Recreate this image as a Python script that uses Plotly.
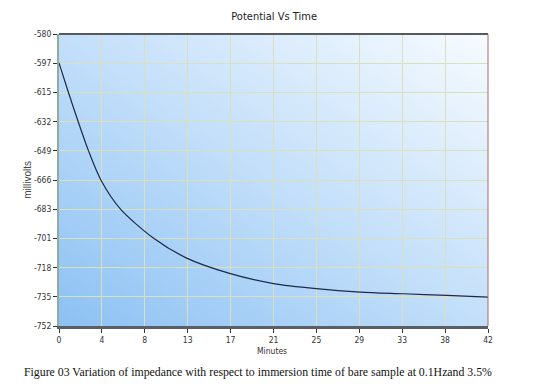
import base64
import plotly.graph_objects as go

# ---- data ----
minutes = [0, 0.9, 1.9, 2.9, 4.1, 6.0, 9.2, 12.5, 16.7, 21.0, 25.2, 29.5, 33.7, 38.0, 42]
millivolts = [-597, -614, -632, -649, -666, -683, -700, -712, -721, -727, -730, -732, -733, -734, -735]

x_tick_vals = [0, 4.2, 8.4, 12.6, 16.8, 21.0, 25.2, 29.4, 33.6, 37.8, 42.0]
x_tick_text = ["0", "4", "8", "13", "17", "21", "25", "29", "33", "38", "42"]
y_tick_vals = [-580, -597.2, -614.4, -631.6, -648.8, -666, -683.2, -700.4, -717.6, -734.8, -752]
y_tick_text = ["-580", "-597", "-615", "-632", "-649", "-666", "-683", "-701", "-718", "-735", "-752"]

title_text = "Potential Vs Time"
x_title = "Minutes"
y_title = "millivolts"
caption = "Figure 03 Variation of impedance with respect to immersion time of bare sample at 0.1Hzand 3.5%"

NARROW = "Liberation Sans Narrow, DejaVu Sans Condensed, Arial Narrow, sans-serif"

svg = (
    '<svg xmlns="http://www.w3.org/2000/svg" width="429" height="292" preserveAspectRatio="none">'
    '<defs><linearGradient id="g" x1="0" y1="1" x2="1" y2="0">'
    '<stop offset="0" stop-color="#8cc1f3"/>'
    '<stop offset="0.5" stop-color="#c3dffa"/>'
    '<stop offset="1" stop-color="#f7fbff"/>'
    '</linearGradient></defs>'
    '<rect width="100%" height="100%" fill="url(#g)"/></svg>'
)
svg_uri = "data:image/svg+xml;base64," + base64.b64encode(svg.encode()).decode()

fig = go.Figure()
fig.add_trace(go.Scatter(
    x=minutes, y=millivolts, mode="lines",
    line=dict(color="#1c2a48", width=1.2, shape="spline", smoothing=0.8),
    hoverinfo="skip", showlegend=False,
))

fig.update_layout(
    width=526, height=384,
    margin=dict(l=51, r=46, t=26, b=66),
    paper_bgcolor="white",
    plot_bgcolor="rgba(0,0,0,0)",
    showlegend=False,
    title=dict(text=title_text, x=0.506, xanchor="center", y=0.979, yanchor="middle",
               font=dict(family=NARROW, size=11, color="#222")),
    images=[dict(source=svg_uri, xref="paper", yref="paper", x=0, y=1,
                 sizex=1, sizey=1, sizing="stretch", layer="below", xanchor="left", yanchor="top")],
    xaxis=dict(
        range=[0, 42], tickmode="array", tickvals=x_tick_vals, ticktext=x_tick_text,
        showgrid=True, gridcolor="#dadfbc", gridwidth=1, zeroline=False,
        showline=True, linecolor="#5a5f66", linewidth=3,
        ticks="outside", ticklen=4, tickcolor="#333", tickwidth=1,
        tickfont=dict(family=NARROW, size=8.5, color="#333"),
    ),
    yaxis=dict(
        range=[-752, -580], tickmode="array", tickvals=y_tick_vals, ticktext=y_tick_text,
        showgrid=True, gridcolor="#dadfbc", gridwidth=1, zeroline=False,
        showline=True, linecolor="#93ab9c", linewidth=2,
        ticks="outside", ticklen=4, tickcolor="#333", tickwidth=1,
        tickfont=dict(family=NARROW, size=8.5, color="#333"),
    ),
    shapes=[
        dict(type="line", xref="paper", yref="paper", x0=0, x1=1, y0=1, y1=1,
             line=dict(color="#555a60", width=2), layer="above"),
        dict(type="line", xref="paper", yref="paper", x0=1, x1=1, y0=0, y1=1,
             line=dict(color="#a86a6a", width=1), layer="above"),
    ],
    annotations=[
        dict(text=x_title, xref="paper", yref="paper", x=0.4965, y=-0.085,
             xanchor="center", yanchor="middle", showarrow=False,
             font=dict(family=NARROW, size=8.5, color="#333")),
        dict(text=y_title, xref="paper", yref="paper", x=-0.075, y=0.5, textangle=-90,
             xanchor="center", yanchor="middle", showarrow=False,
             font=dict(family="Liberation Sans, sans-serif", size=10, color="#444")),
        dict(text=caption, xref="paper", yref="paper", x=-0.0862, y=-0.1575,
             xanchor="left", yanchor="middle", showarrow=False,
             font=dict(family="Liberation Serif, Times New Roman, serif", size=11.8, color="#111")),
    ],
)

fig.write_html("out.html")
